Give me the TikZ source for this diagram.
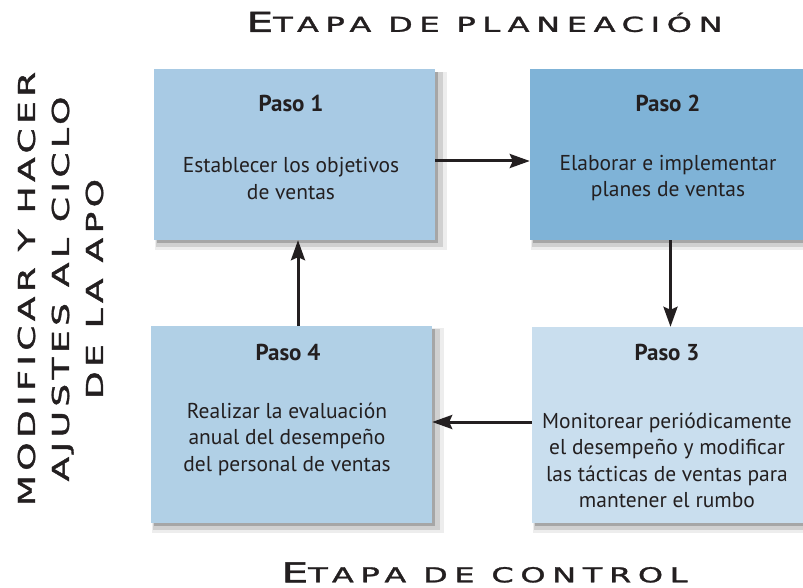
\documentclass[tikz,border=0pt]{standalone}
\usepackage{graphicx}
\usepackage{fontspec}
\setmainfont{PT Sans}
\newfontfamily\stagefont{DejaVu Sans}
\usetikzlibrary{arrows.meta,shadows}

\definecolor{pasoone}{RGB}{168,202,228}
\definecolor{pasotwo}{RGB}{127,179,215}
\definecolor{pasothree}{RGB}{201,222,238}
\definecolor{pasofour}{RGB}{177,208,230}
\definecolor{ink}{RGB}{35,31,32}

% wide letters for the stage titles
\newcommand{\widetxt}[2][12]{\scalebox{1.55}[1]{\addfontfeature{LetterSpace=#1,FakeBold=1.3}#2}}
\newcommand{\stagetitle}[2]{\widetxt[21]{{\fontsize{27.4}{30}\selectfont #1}{\fontsize{20.6}{24}\selectfont #2}}}

\begin{document}
\begin{tikzpicture}[x=1pt, y=-1pt, >={Stealth[length=20pt,width=14pt,inset=3pt]},
    stepbox/.style={rectangle, draw=none, inner sep=0pt, minimum width=281pt, minimum height=171pt,
      drop shadow={shadow xshift=6pt, shadow yshift=-6pt, shadow scale=1.04, opacity=.07, fill=black},
      drop shadow={shadow xshift=5pt, shadow yshift=-5pt, shadow scale=1.02, opacity=.12, fill=black},
      drop shadow={shadow xshift=3pt, shadow yshift=-3pt, opacity=.2, fill=black}},
    head/.style={anchor=base, text=ink, font=\bfseries\fontsize{23}{27}\selectfont},
    body/.style={align=center, text=ink, inner sep=0pt, font=\fontsize{21.5}{26.5}\selectfont},
    stage/.style={text=ink, inner sep=0pt, font=\stagefont},
    flow/.style={->, line width=3pt, ink}]
    \clip (0,0) rectangle (803,588);
    \useasboundingbox (0,0) rectangle (803,588);

    % Stage titles
    \node[stage] (plan) at (484.5,22) {\stagetitle{E}{TAPA DE PLANEACIÓN}};
    \node[stage] (ctrl) at (484.5,572.5) {\stagetitle{E}{TAPA DE CONTROL}};
    \node[stage, rotate=90, align=center, font=\stagefont\fontsize{23.3}{34}\selectfont] (adjust) at (60.5,289)
      {\widetxt{MODIFICAR Y HACER}\\\widetxt{AJUSTES AL CICLO}\\\widetxt{DE LA APO}};

    % Steps
    \node[stepbox, fill=pasoone] (p1) at (294.5,154.5) {};
    \node[head] (h1) at (291,112) {Paso 1};
    \node[body] (b1) at (291,178.6) {Establecer los objetivos\\de ventas};

    \node[stepbox, fill=pasotwo] (p2) at (670.5,154.5) {};
    \node[head] (h2) at (668,112) {Paso 2};
    \node[body] (b2) at (668,178) {Elaborar e implementar\\planes de ventas};

    \node[stepbox, fill=pasothree, minimum width=276pt, minimum height=196pt] (p3) at (670,425) {};
    \node[head] (h3) at (667,360) {Paso 3};
    \node[body] (b3) at (667,460.5) {Monitorear periódicamente\\el desempeño y modificar\\las tácticas de ventas para\\mantener el rumbo};

    \node[stepbox, fill=pasofour, minimum height=197pt] (p4) at (291.5,424.5) {};
    \node[head] (h4) at (288,360) {Paso 4};
    \node[body] (b4) at (287,439) {Realizar la evaluación\\anual del desempeño\\del personal de ventas};

    % Cycle arrows
    \draw[flow] ([yshift=-6.5pt]p1.east) -- ([yshift=-6.5pt]p1.east -| p2.west);
    \draw[flow] (p2.south) -- (p2.south |- p3.north);
    \draw[flow] ([yshift=3pt]p3.west) -- ([yshift=3pt]p3.west -| p4.east);
    \draw[flow] ([xshift=6.5pt]p4.north) -- ([xshift=6.5pt]p4.north |- p1.south);
\end{tikzpicture}
\end{document}
